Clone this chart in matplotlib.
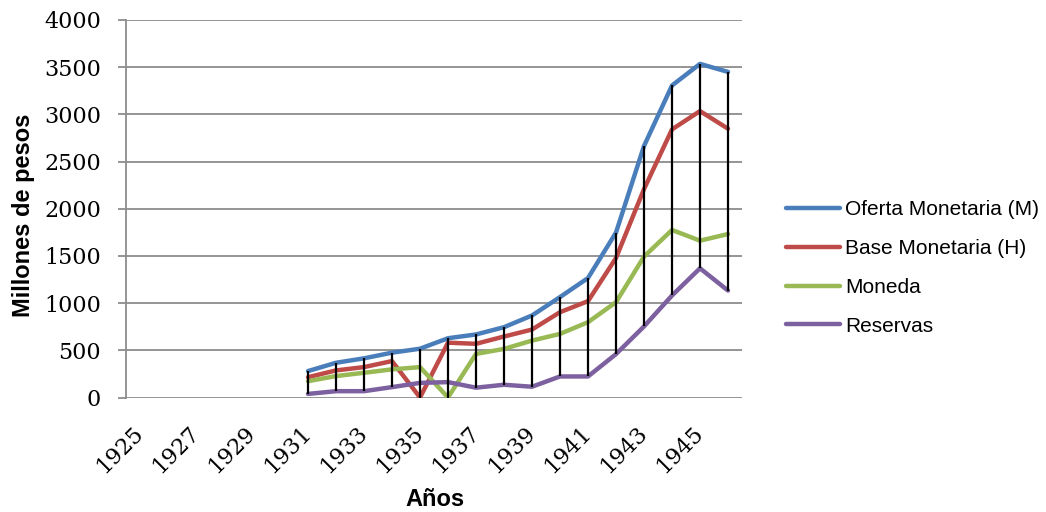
import numpy as np
import matplotlib
matplotlib.use("Agg")
import matplotlib.pyplot as plt

# Data (millones de pesos); 1925-1930 sin datos
years = list(range(1925, 1947))
nan = np.nan
oferta = [nan]*6 + [280, 368, 415, 475, 517, 628, 668, 745, 869, 1064, 1266, 1748, 2665, 3306, 3535, 3450]
base = [nan]*6 + [215, 287, 322, 386, 0, 581, 569, 646, 720, 904, 1021, 1478, 2208, 2841, 3035, 2848]
moneda = [nan]*6 + [173, 227, 262, 298, 322, 0, 462, 515, 603, 674, 798, 1010, 1493, 1775, 1662, 1732]
reservas = [nan]*6 + [38, 67, 67, 110, 155, 163, 104, 135, 114, 223, 223, 460, 753, 1081, 1369, 1133]

series = [
    ("Oferta Monetaria (M)", oferta, "#4A7EBB"),
    ("Base Monetaria (H)", base, "#BE4B48"),
    ("Moneda", moneda, "#98B954"),
    ("Reservas", reservas, "#7D60A0"),
]

W, H = 1046, 512
fig = plt.figure(figsize=(W/100, H/100), dpi=100)
ax = fig.add_axes([126/W, 1-397.5/H, (742-126)/W, (397.5-20)/H])

x = np.arange(len(years))

# high-low lines
allv = np.array([oferta, base, moneda, reservas], dtype=float)
ok = ~np.all(np.isnan(allv), axis=0)
ax.vlines(x[ok], np.nanmin(allv[:, ok], axis=0), np.nanmax(allv[:, ok], axis=0),
          colors="black", linewidth=1.6, zorder=3)

for name, vals, col in series:
    ax.plot(x, vals, color=col, linewidth=3.2, label=name, zorder=2,
            solid_capstyle="round", solid_joinstyle="round")

ax.set_xlim(-0.5, len(years) - 0.5)
ax.set_ylim(0, 4000)
ax.set_yticks(range(0, 4001, 500))
ax.yaxis.grid(True, color="#8c8c8c", linewidth=1.3)
ax.set_axisbelow(True)
for s in ["top", "right", "bottom"]:
    ax.spines[s].set_visible(False)
ax.spines["left"].set_color("#8c8c8c")
ax.spines["left"].set_linewidth(1.3)
ax.tick_params(axis="y", length=6, color="#8c8c8c", width=1.3, pad=12)
ax.tick_params(axis="x", length=0, pad=23)

ax.set_xticks(x[::2])
ax.set_xticklabels([str(y) for y in years[::2]], rotation=45, ha="right",
                   va="center", rotation_mode="anchor")
for lab in ax.get_xticklabels() + ax.get_yticklabels():
    lab.set_fontfamily("DejaVu Serif")
    lab.set_fontsize(16)

fig.text(435/W, 1-500/H, "Años", ha="center", va="center",
         fontfamily="Liberation Sans", fontweight="bold", fontsize=17)
fig.text(24/W, 1-215/H, "Millones de pesos", ha="center", va="center",
         rotation=90, fontfamily="Liberation Sans", fontweight="bold", fontsize=17)

leg = ax.legend(loc="center left", bbox_to_anchor=(786/W, 1-268/H),
                bbox_transform=fig.transFigure, frameon=False,
                borderaxespad=0, borderpad=0,
                prop={"family": "Liberation Sans", "size": 15},
                handlelength=2.6, handletextpad=0.25, labelspacing=0.95)

fig.savefig("out.png", dpi=100)
